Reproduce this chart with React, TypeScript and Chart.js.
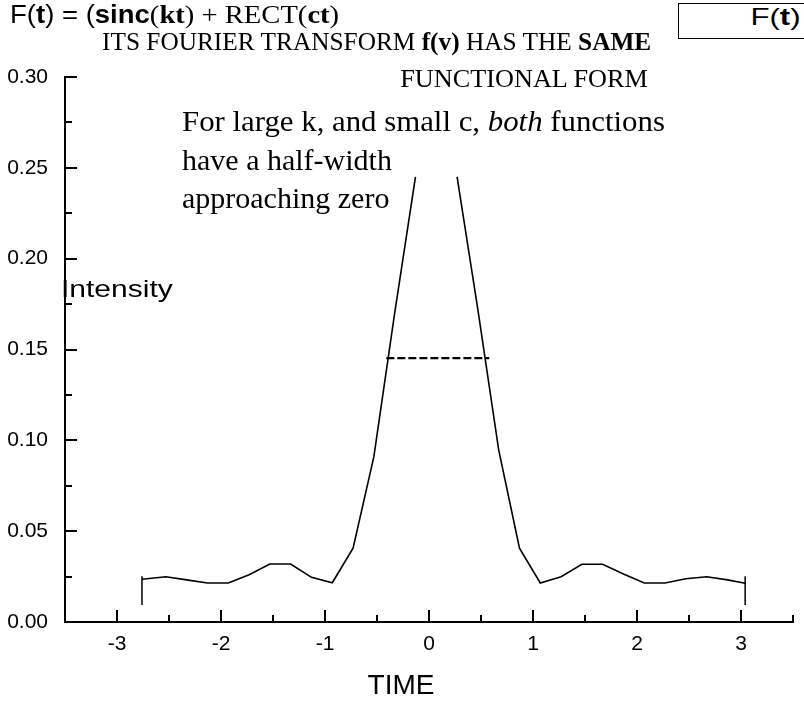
import React, { useEffect, useRef } from "react";
import { Chart, registerables } from "chart.js";

Chart.register(...registerables);

// ---- data ----
const timeValues = [
  -2.76, -2.53, -2.33, -2.13, -1.93, -1.73, -1.53, -1.33, -1.13, -0.93,
  -0.73, -0.53, -0.33, -0.13, 0.07, 0.27, 0.47, 0.67, 0.87, 1.07,
  1.27, 1.47, 1.67, 1.87, 2.07, 2.27, 2.47, 2.67, 2.87, 3.04,
];
const intensityValues: (number | null)[] = [
  0.0235, 0.0249, 0.0232, 0.0215, 0.0215, 0.026, 0.0319, 0.0319, 0.0246, 0.0216,
  0.0406, 0.091, 0.17, 0.245, null, 0.245, 0.172, 0.0947, 0.0406, 0.0215,
  0.0249, 0.0318, 0.0318, 0.0264, 0.0215, 0.0215, 0.0238, 0.0249, 0.0232, 0.0213,
];
const halfWidthTimes = [-0.41, 0.58];
const halfWidthIntensity = [0.1453, 0.1453];
const leftMarkerTimes = [-2.76, -2.76];
const rightMarkerTimes = [3.04, 3.04];
const markerIntensity = [0.0252, 0.0094];
const xMajorTicks = [-3, -2, -1, 0, 1, 2, 3];
const yMajorTicks = [0, 0.05, 0.1, 0.15, 0.2, 0.25, 0.3];
const xRange = [-3.5, 3.5];
const yRange = [0, 0.3];

const SANS = '"Liberation Sans", Arial, sans-serif';
const SERIF = '"Liberation Serif", "Times New Roman", serif';

const isMajor = (v: number, majors: number[]) =>
  majors.some((m) => Math.abs(m - v) < 1e-6);

const inwardTicks = {
  id: "inwardTicks",
  afterDraw(chart: any) {
    const { ctx, chartArea, scales } = chart;
    const xs = scales.x;
    const ys = scales.y;
    ctx.save();
    ctx.strokeStyle = "#000";
    ctx.lineWidth = 2;
    for (const t of xs.ticks) {
      const px = Math.round(xs.getPixelForValue(t.value));
      const len = isMajor(t.value, xMajorTicks) ? 12 : 7;
      ctx.beginPath();
      ctx.moveTo(px, chartArea.bottom);
      ctx.lineTo(px, chartArea.bottom - len);
      ctx.stroke();
    }
    for (const t of ys.ticks) {
      const py = Math.round(ys.getPixelForValue(t.value));
      const len = isMajor(t.value, yMajorTicks) ? 12 : 7;
      ctx.beginPath();
      ctx.moveTo(chartArea.left, py);
      ctx.lineTo(chartArea.left + len, py);
      ctx.stroke();
    }
    ctx.restore();
  },
};

type TxtProps = {
  left?: number;
  right?: number;
  baseline: number;
  size: number;
  family: string;
  scale?: number;
  center?: boolean;
  children: React.ReactNode;
};

const Txt = ({ left, right, baseline, size, family, scale = 1, center, children }: TxtProps) => {
  const asc = family === SERIF ? 0.8375 : 0.8465;
  const style: React.CSSProperties = {
    position: "absolute",
    top: baseline - size * asc,
    fontSize: size,
    fontFamily: family,
    lineHeight: 1,
    whiteSpace: "nowrap",
    color: "#000",
  };
  if (center) {
    style.left = left;
    style.transform = `translateX(-50%) scaleX(${scale})`;
  } else if (right !== undefined) {
    style.right = right;
    style.transform = `scaleX(${scale})`;
    style.transformOrigin = "right top";
  } else {
    style.left = left;
    style.transform = `scaleX(${scale})`;
    style.transformOrigin = "left top";
  }
  return <div style={style}>{children}</div>;
};

export default function App() {
  const ref = useRef<HTMLCanvasElement>(null);

  useEffect(() => {
    if (!ref.current) return;
    const chart = new Chart(ref.current, {
      type: "scatter",
      data: {
        datasets: [
          {
            data: timeValues.map((t, i) => ({ x: t, y: intensityValues[i] as any })),
            showLine: true,
            borderColor: "#000",
            borderWidth: 1.6,
            pointRadius: 0,
            spanGaps: false,
            tension: 0,
          },
          {
            data: halfWidthTimes.map((t, i) => ({ x: t, y: halfWidthIntensity[i] })),
            showLine: true,
            borderColor: "#000",
            borderWidth: 2.2,
            borderDash: [8, 3],
            pointRadius: 0,
          },
          {
            data: leftMarkerTimes.map((t, i) => ({ x: t, y: markerIntensity[i] })),
            showLine: true,
            borderColor: "#000",
            borderWidth: 1.5,
            pointRadius: 0,
          },
          {
            data: rightMarkerTimes.map((t, i) => ({ x: t, y: markerIntensity[i] })),
            showLine: true,
            borderColor: "#000",
            borderWidth: 1.5,
            pointRadius: 0,
          },
        ],
      },
      options: {
        animation: false,
        responsive: false,
        devicePixelRatio: 1,
        layout: { padding: { top: 77, right: 11, left: 0, bottom: 0 } },
        plugins: {
          legend: { display: false },
          tooltip: { enabled: false },
        },
        scales: {
          x: {
            type: "linear",
            min: xRange[0],
            max: xRange[1],
            afterFit: (s: any) => {
              s.height = 80;
            },
            grid: { display: false, drawTicks: false },
            border: { display: true, color: "#000", width: 2 },
            ticks: {
              stepSize: 0.5,
              maxTicksLimit: 15,
              autoSkip: false,
              maxRotation: 0,
              padding: 10,
              color: "#000",
              font: { family: SANS, size: 21 },
              callback: (v: any) => (isMajor(Number(v), xMajorTicks) ? String(Math.round(Number(v))) : ""),
            },
          },
          y: {
            type: "linear",
            min: yRange[0],
            max: yRange[1],
            afterFit: (s: any) => {
              s.width = 65;
            },
            grid: { display: false, drawTicks: false },
            border: { display: true, color: "#000", width: 2 },
            ticks: {
              stepSize: 0.025,
              maxTicksLimit: 13,
              autoSkip: false,
              padding: 17,
              color: "#000",
              font: { family: SANS, size: 21 },
              callback: (v: any) => (isMajor(Number(v), yMajorTicks) ? Number(v).toFixed(2) : ""),
            },
          },
        },
      },
      plugins: [inwardTicks],
    } as any);
    return () => chart.destroy();
  }, []);

  return (
    <div
      style={{
        position: "fixed",
        left: 0,
        top: 0,
        width: 804,
        height: 702,
        overflow: "hidden",
        background: "#fff",
      }}
    >
      <canvas
        ref={ref}
        width={804}
        height={702}
        style={{ position: "absolute", left: 0, top: 0, width: 804, height: 702 }}
      />
      <Txt left={10} baseline={23} size={25} family={SANS} scale={1.1}>
        F(<b>t</b>) = (<b>sinc</b>
        <span style={{ fontFamily: SERIF, fontSize: 26 }}>
          (<b>kt</b>) + RECT(<b>ct</b>)
        </span>
      </Txt>
      <div
        style={{
          position: "absolute",
          left: 678,
          top: 3,
          width: 140,
          height: 34,
          border: "1px solid #000",
          background: "#fff",
        }}
      />
      <Txt right={3} baseline={25} size={24} family={SANS} scale={1.3}>
        F(<b>t</b>)
      </Txt>
      <Txt left={102} baseline={50} size={25} family={SERIF} scale={1.013}>
        ITS FOURIER TRANSFORM <b>f(v)</b> HAS THE <b>SAME</b>
      </Txt>
      <Txt right={156} baseline={87} size={25} family={SERIF} scale={1.05}>
        FUNCTIONAL FORM
      </Txt>
      <Txt left={182} baseline={131} size={30} family={SERIF} scale={1.027}>
        For large k, and small c, <i>both</i> functions
      </Txt>
      <Txt left={182} baseline={170} size={30} family={SERIF}>
        have a half-width
      </Txt>
      <Txt left={182} baseline={208} size={30} family={SERIF}>
        approaching zero
      </Txt>
      <Txt left={61} baseline={297} size={24} family={SANS} scale={1.25}>
        Intensity
      </Txt>
      <Txt left={401} baseline={695} size={28} family={SANS} center>
        TIME
      </Txt>
    </div>
  );
}
